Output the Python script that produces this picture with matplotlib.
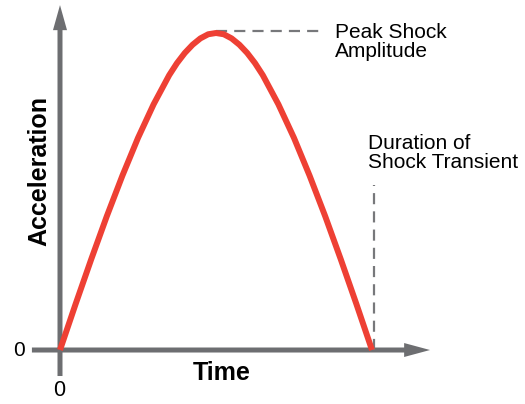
import numpy as np
import matplotlib
matplotlib.use("Agg")
import matplotlib.pyplot as plt

plt.rcParams['font.family'] = ['Liberation Sans', 'DejaVu Sans']

# half-sine shock pulse (time in ms, acceleration in g)
time_ms = [0.0, 0.5, 1.0, 1.5, 2.0, 2.5, 3.0, 3.5, 3.75, 4.0, 4.25, 4.5,
           4.75, 5.0, 5.25, 5.5, 5.75, 6.0, 6.25, 6.5, 7.0, 7.5, 8.0, 8.5,
           9.0, 9.5, 10.0]
accel_g = [0.0, 14.5, 28.6, 42.2, 55.0, 66.9, 77.5, 86.7, 90.5, 93.7, 96.3,
           98.3, 99.6, 100.0, 99.6, 98.3, 96.3, 93.7, 90.5, 86.7, 77.5, 66.9,
           55.0, 42.2, 28.6, 14.5, 0.0]

x_label = "Time"
y_label = "Acceleration"
peak_text = "Peak Shock\nAmplitude"
duration_text = "Duration of\nShock Transient"

gray = '#6d6e71'
dash_gray = '#77787b'
red = '#ee4034'

fig = plt.figure(figsize=(5.25, 4.04), dpi=100)
ax = fig.add_axes([0, 0, 1, 1])
ax.set_xlim(-1.923, 14.904)
ax.set_ylim(-17.03, 110.41)
ax.axis('off')

# axes drawn as arrows
ax.arrow(0, -8.2, 0, 117.0, width=0.16, head_width=0.45, head_length=7.9,
         length_includes_head=True, color=gray, lw=0)
ax.arrow(-0.9, 0, 12.76, 0, width=1.58, head_width=4.4, head_length=0.83,
         length_includes_head=True, color=gray, lw=0)

t = np.array(time_ms)
a = np.array(accel_g)
ipk = int(np.argmax(a))

# guide lines
ax.plot([t[ipk], 8.5], [a[ipk] + 0.7, a[ipk] + 0.7], color=dash_gray, lw=1.6,
        dashes=(5, 3.2))
ax.plot([t[-1] + 0.06, t[-1] + 0.06], [0, 52], color=dash_gray, lw=1.6,
        dashes=(5, 3.2))

ax.plot(t, a, color=red, lw=4.3, solid_capstyle='butt', solid_joinstyle='round')

ax.text(8.81, 103.0, peak_text, fontsize=15, ha='left', va='top',
        linespacing=0.95)
ax.text(9.87, 68.0, duration_text, fontsize=15, ha='left', va='top',
        linespacing=0.95)

ax.text(-1.31, 0, "0", fontsize=15, ha='center', va='center')
ax.text(-0.03, -12.9, "0", fontsize=15.5, ha='center', va='center')
ax.text(5.19, -9.46, x_label, fontsize=18, fontweight='bold', ha='center',
        va='baseline')
ax.text(-0.67, 56.5, y_label, fontsize=18, fontweight='bold', rotation=90,
        ha='center', va='center')

fig.savefig('out.png', dpi=100)
